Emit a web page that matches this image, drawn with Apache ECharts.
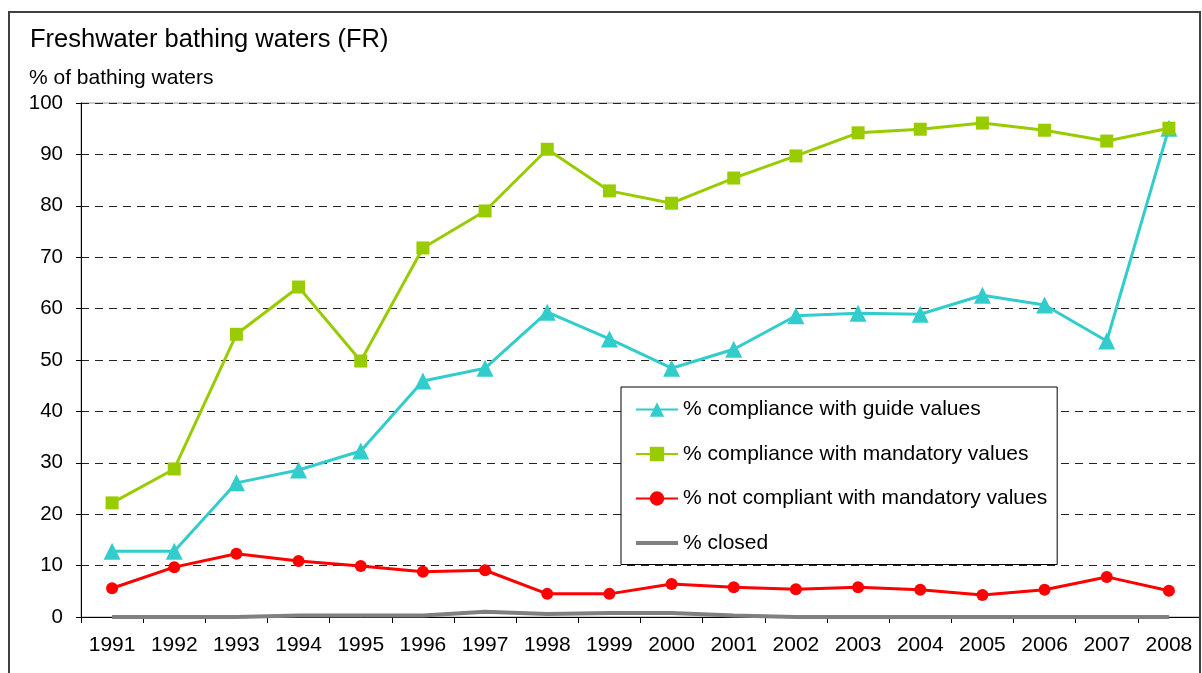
<!DOCTYPE html>
<html>
<head>
<meta charset="utf-8">
<script src="https://cdn.jsdelivr.net/npm/echarts@6/dist/echarts.min.js"></script>
<style>
  html, body { margin: 0; padding: 0; background: #fff; }
  #chart { width: 1202px; height: 673px; }
</style>
</head>
<body>
<div id="chart"></div>
<script>
// values
const years = ['1991', '1992', '1993', '1994', '1995', '1996', '1997', '1998', '1999',
  '2000', '2001', '2002', '2003', '2004', '2005', '2006', '2007', '2008']
const guideValues = [12.8, 12.8, 26.1, 28.6, 32.3, 45.9, 48.4, 59.3, 54.1,
  48.4, 52.1, 58.6, 59.1, 58.9, 62.6, 60.7, 53.7, 95.1]
const mandatoryValues = [22.2, 28.8, 55.0, 64.2, 49.8, 71.8, 79.0, 91.0, 82.9,
  80.5, 85.4, 89.7, 94.2, 94.9, 96.1, 94.7, 92.6, 95.1]
const notCompliant = [5.6, 9.7, 12.3, 10.9, 9.9, 8.8, 9.1, 4.5, 4.5,
  6.4, 5.8, 5.4, 5.8, 5.3, 4.3, 5.3, 7.8, 5.1]
const closed = [0, 0, 0, 0.3, 0.3, 0.3, 1.0, 0.6, 0.8,
  0.8, 0.3, 0, 0, 0, 0, 0, 0, 0]
const seriesNames = ['% compliance with guide values', '% compliance with mandatory values',
  '% not compliant with mandatory values', '% closed']

const font = 'Liberation Sans'
const chart = echarts.init(document.getElementById('chart'))

const option = {
  animation: false,
  textStyle: { fontFamily: font },
  title: [
    {
      text: 'Freshwater bathing waters (FR)',
      left: 25, top: 22,
      textStyle: { fontSize: 25.5, fontWeight: 'normal', color: '#000', fontFamily: font }
    },
    {
      text: '% of bathing waters',
      left: 24, top: 63,
      textStyle: { fontSize: 21, fontWeight: 'normal', color: '#000', fontFamily: font }
    }
  ],
  graphic: [
    {
      type: 'rect',
      shape: { x: 9, y: 12, width: 1191, height: 700 },
      style: { fill: 'none', stroke: '#404040', lineWidth: 2 },
      silent: true, z: 100
    }
  ],
  grid: {
    left: 81, right: 2, top: 103, bottom: 56,
    show: true, borderColor: '#999', borderWidth: 1
  },
  legend: {
    orient: 'vertical',
    left: 621, top: 387,
    backgroundColor: '#fff',
    borderColor: '#000', borderWidth: 1,
    padding: [12, 10, 11, 14],
    itemWidth: 42, itemHeight: 18, itemGap: 23.5,
    textStyle: { fontSize: 21, color: '#000', fontFamily: font },
    data: [
      seriesNames[0], seriesNames[1], seriesNames[2],
      { name: seriesNames[3], icon: 'path://M0,0 L42,0 L42,4 L0,4 Z' }
    ]
  },
  xAxis: {
    type: 'category',
    data: years,
    boundaryGap: true,
    axisLine: { lineStyle: { color: '#000', width: 1 } },
    axisTick: { show: true, length: 6, lineStyle: { color: '#000' } },
    axisLabel: { color: '#000', fontSize: 21, margin: 18, interval: 0 },
    splitLine: { show: false }
  },
  yAxis: {
    type: 'value',
    min: 0, max: 100, interval: 10,
    axisLine: { show: true, lineStyle: { color: '#000', width: 1 } },
    axisTick: { show: true, length: 5, lineStyle: { color: '#000' } },
    axisLabel: { color: '#000', fontSize: 20.5, margin: 18 },
    splitLine: { lineStyle: { color: '#222', type: [8, 6], width: 1 } }
  },
  series: [
    {
      name: seriesNames[0], type: 'line', data: guideValues,
      symbol: 'triangle', symbolSize: 17,
      lineStyle: { color: '#33CCCC', width: 3 },
      itemStyle: { color: '#33CCCC' }
    },
    {
      name: seriesNames[1], type: 'line', data: mandatoryValues,
      symbol: 'rect', symbolSize: 13,
      lineStyle: { color: '#99CC00', width: 3 },
      itemStyle: { color: '#99CC00' }
    },
    {
      name: seriesNames[2], type: 'line', data: notCompliant,
      symbol: 'circle', symbolSize: 12,
      lineStyle: { color: '#FF0000', width: 3 },
      itemStyle: { color: '#FF0000' }
    },
    {
      name: seriesNames[3], type: 'line', data: closed,
      symbol: 'none',
      lineStyle: { color: '#808080', width: 4 },
      itemStyle: { color: '#808080' }
    }
  ]
}
chart.setOption(option)
</script>
</body>
</html>
